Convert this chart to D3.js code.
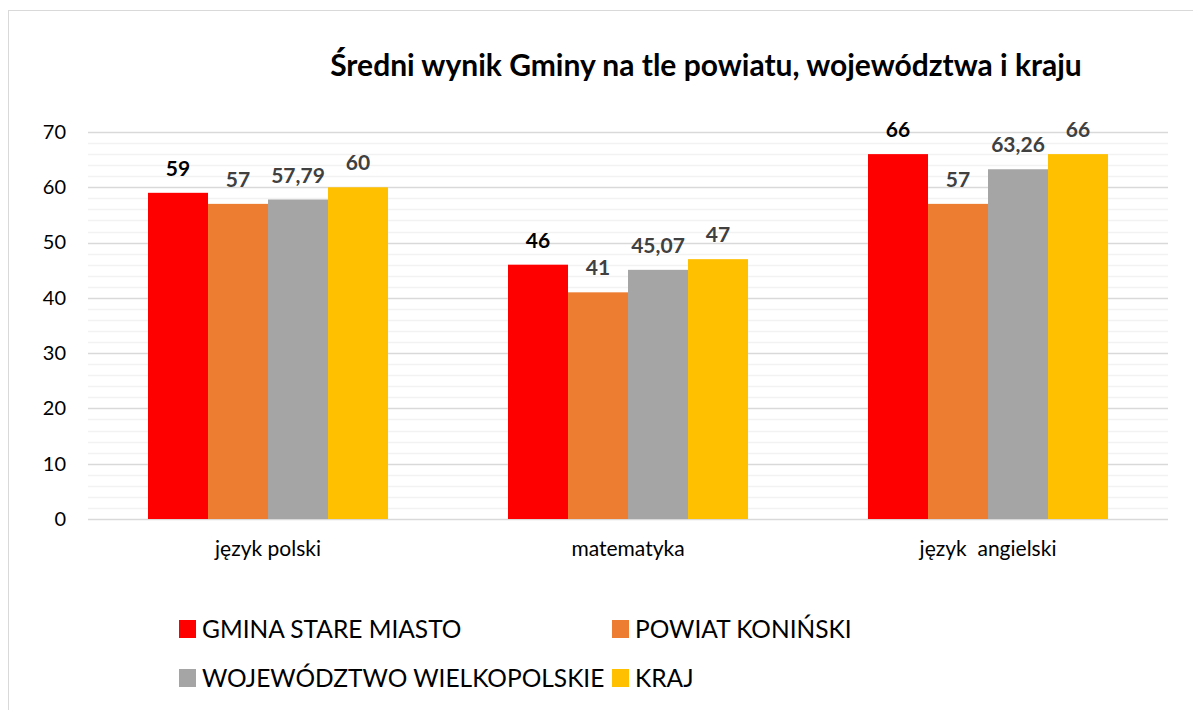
<!DOCTYPE html>
<html>
<head>
<meta charset="utf-8">
<script src="https://cdn.jsdelivr.net/npm/d3@7"></script>
<style>
body { margin: 0; background: #fff; }
text { font-family: Lato, "Open Sans", sans-serif; }
</style>
</head>
<body>
<div id="chart"></div>
<script>
// data
var categories = ["język polski", "matematyka", "język  angielski"];
var seriesNames = ["GMINA STARE MIASTO", "POWIAT KONIŃSKI", "WOJEWÓDZTWO WIELKOPOLSKIE", "KRAJ"];
var gmina = [59, 46, 66];
var powiat = [57, 41, 57];
var wojewodztwo = [57.79, 45.07, 63.26];
var kraj = [60, 47, 66];
var yTicks = [0, 10, 20, 30, 40, 50, 60, 70];
var colors = ["#ff0000", "#ed7d31", "#a5a5a5", "#ffc000"];

var seriesValues = [gmina, powiat, wojewodztwo, kraj];

var w = 1193, h = 710;
var plotLeft = 88, plotRight = 1168, plotTop = 132, plotBottom = 519;

var svg = d3.select("#chart").append("svg")
	.attr("width", w)
	.attr("height", h);

// chart border
svg.append("rect")
	.attr("x", 8.5).attr("y", 10.5)
	.attr("width", 1220).attr("height", 720)
	.attr("fill", "#fff")
	.attr("stroke", "#d9d9d9");

var xScale = d3.scaleBand()
	.domain(categories)
	.range([plotLeft, plotRight])
	.paddingInner(1 / 3)
	.paddingOuter(1 / 6);

var xInner = d3.scaleBand()
	.domain(seriesNames)
	.range([0, xScale.bandwidth()]);

var yScale = d3.scaleLinear()
	.domain([0, 70])
	.range([plotBottom, plotTop]);

// minor gridlines
svg.append("g")
	.selectAll("line")
	.data(d3.range(2, 70, 2).filter(function(d) { return d % 10 != 0; }))
	.enter()
	.append("line")
	.attr("x1", plotLeft).attr("x2", plotRight)
	.attr("y1", function(d) { return Math.round(yScale(d)) + 0.5; })
	.attr("y2", function(d) { return Math.round(yScale(d)) + 0.5; })
	.attr("stroke", "#f2f2f2")
	.attr("stroke-width", 1.5);

// major gridlines
svg.append("g")
	.selectAll("line")
	.data(yTicks)
	.enter()
	.append("line")
	.attr("x1", plotLeft).attr("x2", plotRight)
	.attr("y1", function(d) { return Math.round(yScale(d)) + 0.5; })
	.attr("y2", function(d) { return Math.round(yScale(d)) + 0.5; })
	.attr("stroke", "#d9d9d9")
	.attr("stroke-width", 1.5);

// y axis labels
var yAxis = d3.axisLeft(yScale)
	.tickValues(yTicks)
	.tickSize(0)
	.tickPadding(22);
var gy = svg.append("g")
	.attr("transform", "translate(" + plotLeft + ",0)")
	.call(yAxis);
gy.select(".domain").remove();
gy.selectAll("text")
	.attr("font-family", "Lato, sans-serif")
	.attr("font-size", "20px")
	.attr("fill", "#000");

// x axis labels
var xAxis = d3.axisBottom(xScale).tickSize(0).tickPadding(22);
var gx = svg.append("g")
	.attr("transform", "translate(0," + plotBottom + ")")
	.call(xAxis);
gx.select(".domain").remove();
gx.selectAll("text")
	.attr("font-family", "Lato, sans-serif")
	.attr("font-size", "21px")
	.attr("fill", "#000")
	.style("white-space", "pre");

// bars
var groups = svg.selectAll(".series")
	.data(seriesValues)
	.enter()
	.append("g")
	.attr("class", "series")
	.attr("fill", function(d, i) { return colors[i]; });

groups.each(function(vals, si) {
	var g = d3.select(this);
	g.selectAll("rect")
		.data(vals)
		.enter()
		.append("rect")
		.attr("x", function(d, ci) { return xScale(categories[ci]) + xInner(seriesNames[si]); })
		.attr("y", function(d) { return yScale(d); })
		.attr("width", xInner.bandwidth())
		.attr("height", function(d) { return yScale(0) - yScale(d); });

	g.selectAll("text")
		.data(vals)
		.enter()
		.append("text")
		.attr("x", function(d, ci) { return xScale(categories[ci]) + xInner(seriesNames[si]) + xInner.bandwidth() / 2; })
		.attr("y", function(d) { return yScale(d) - 17; })
		.attr("text-anchor", "middle")
		.attr("font-size", "21px")
		.attr("font-weight", "bold")
		.attr("fill", si == 0 ? "#000" : "#404040")
		.text(function(d) { return String(d).replace(".", ","); });
});

// title
svg.append("text")
	.attr("x", 706)
	.attr("y", 76)
	.attr("text-anchor", "middle")
	.attr("font-size", "30px")
	.attr("font-weight", "bold")
	.attr("fill", "#000")
	.text("Średni wynik Gminy na tle powiatu, województwa i kraju");

// legend
var legendPos = [[179, 629], [612, 629], [179, 678], [612, 678]];
var legend = svg.selectAll(".legend")
	.data(seriesNames)
	.enter()
	.append("g")
	.attr("class", "legend")
	.attr("transform", function(d, i) { return "translate(" + legendPos[i][0] + "," + legendPos[i][1] + ")"; });
legend.append("rect")
	.attr("x", 0).attr("y", -9)
	.attr("width", 17).attr("height", 18)
	.attr("fill", function(d, i) { return colors[i]; });
legend.append("text")
	.attr("x", 23)
	.attr("y", 9)
	.attr("font-size", "24.5px")
	.attr("fill", "#000")
	.text(function(d) { return d; });
</script>
</body>
</html>
